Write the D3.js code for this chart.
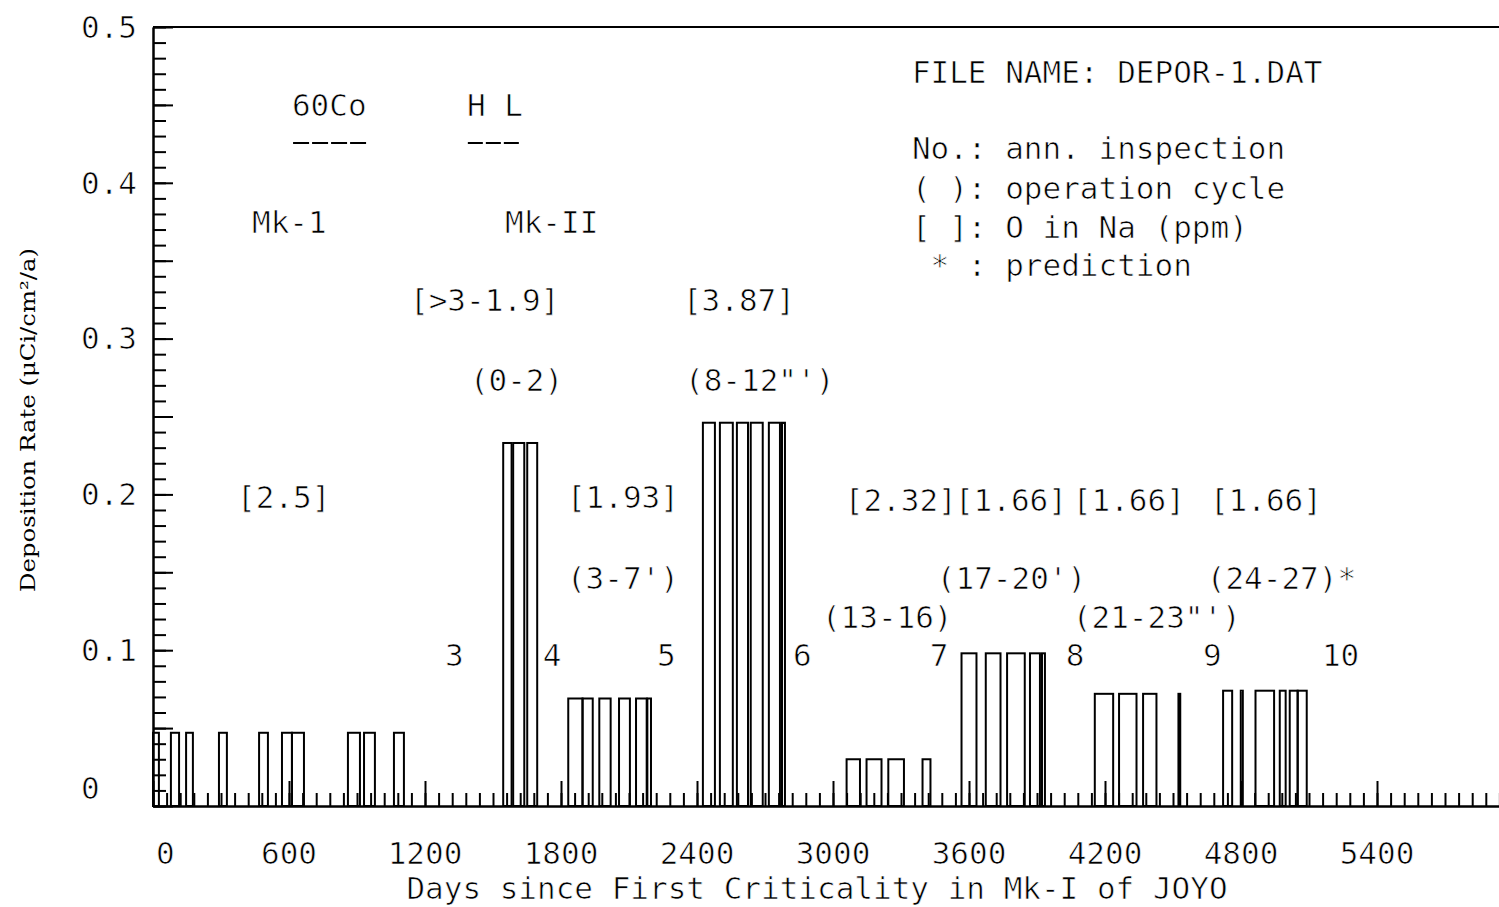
<!DOCTYPE html>
<html lang="en">
<head>
<meta charset="utf-8">
<title>Deposition rate</title>
<script src="https://cdn.jsdelivr.net/npm/d3@7/dist/d3.min.js"></script>
<style>
  body { margin: 0; background: #fff; }
  text { font-family: "DejaVu Sans Mono", monospace; fill: #000; stroke: #fff; stroke-width: 0.7px; }
  .axis path, .axis line { stroke: #000; stroke-width: 2; }
</style>
</head>
<body>
<svg id="chart" width="1499" height="907"></svg>
<script>
// operating periods: start / end in days since first criticality, rate in uCi/cm2/a
var periodStart = [0, 79, 146, 291, 468, 569, 613, 860, 931, 1063,
                   1545, 1589, 1651,
                   1832, 1895, 1969, 2056, 2131, 2181,
                   2426, 2501, 2576, 2637, 2717, 2775,
                   3060, 3148, 3244, 3395,
                   3567, 3674, 3768, 3869, 3922,
                   4155, 4262, 4368, 4524,
                   4721, 4799, 4864, 4971, 5015, 5050];
var periodEnd   = [26, 115, 176, 326, 507, 613, 666, 913, 979, 1107,
                   1582, 1638, 1695,
                   1895, 1940, 2019, 2104, 2178, 2197,
                   2479, 2558, 2625, 2690, 2766, 2788,
                   3119, 3214, 3313, 3430,
                   3633, 3739, 3846, 3913, 3935,
                   4236, 4339, 4427, 4532,
                   4761, 4808, 4946, 4997, 5050, 5090];
var depRate     = [0.047, 0.047, 0.047, 0.047, 0.047, 0.047, 0.047, 0.047, 0.047, 0.047,
                   0.233, 0.233, 0.233,
                   0.069, 0.069, 0.069, 0.069, 0.069, 0.069,
                   0.246, 0.246, 0.246, 0.246, 0.246, 0.246,
                   0.030, 0.030, 0.030, 0.030,
                   0.098, 0.098, 0.098, 0.098, 0.098,
                   0.072, 0.072, 0.072, 0.072,
                   0.074, 0.074, 0.074, 0.074, 0.074, 0.074];

var xTicks = [0, 600, 1200, 1800, 2400, 3000, 3600, 4200, 4800, 5400];
var xTickLabels = ["0", "600", "1200", "1800", "2400", "3000", "3600", "4200", "4800", "5400"];
var yTicks = [0, 0.1, 0.2, 0.3, 0.4, 0.5];
var yTickLabels = ["0", "0.1", "0.2", "0.3", "0.4", "0.5"];

// annotations in the plot (day of left edge, rate of middle line)
var annText = ["60Co", "H L", "Mk-1", "Mk-II", "[>3-1.9]", "[3.87]", "(0-2)", "(8-12\"')",
               "[2.5]", "[1.93]", "[2.32]", "[1.66]", "[1.66]", "[1.66]",
               "(3-7')", "(17-20')", "(24-27)*", "(13-16)", "(21-23\"')",
               "3", "4", "5", "6", "7", "8", "9", "10"];
var annDay  = [613, 1385, 437, 1553, 1134, 2338, 1398, 2347,
               371, 1826, 3052, 3538, 4058, 4663,
               1826, 3458, 4649, 2951, 4058,
               1288, 1720, 2223, 2823, 3427, 4027, 4632, 5157];
var annRate = [0.450, 0.450, 0.375, 0.375, 0.325, 0.325, 0.2734, 0.2734,
               0.198, 0.198, 0.196, 0.196, 0.196, 0.196,
               0.1463, 0.1463, 0.1463, 0.1213, 0.1213,
               0.0969, 0.0969, 0.0969, 0.0969, 0.0969, 0.0969, 0.0969, 0.0969];

var legendText = ["FILE NAME: DEPOR-1.DAT", "No.: ann. inspection", "( ): operation cycle",
                  "[ ]: O in Na (ppm)", " * : prediction"];
var legendRate = [0.471, 0.4223, 0.3967, 0.3716, 0.3472];

var svg = d3.select("#chart");
var W = 1499;

var x = d3.scaleLinear().domain([0, 6000]).range([153, 1513]);
var y = d3.scaleLinear().domain([0, 0.5]).range([806, 27]);

// y ticks (inside)
svg.append("g").attr("class", "axis")
  .attr("transform", "translate(" + x(0) + ",0)")
  .call(d3.axisLeft(y).tickValues(d3.range(0, 0.5001, 0.01)).tickSize(-13).tickSizeOuter(0).tickFormat(""));
svg.append("g").attr("class", "axis")
  .attr("transform", "translate(" + x(0) + ",0)")
  .call(d3.axisLeft(y).tickValues(d3.range(0, 0.5001, 0.05)).tickSize(-20).tickSizeOuter(0).tickFormat(""));

// x ticks (inside)
svg.append("g").attr("class", "axis")
  .attr("transform", "translate(0," + y(0) + ")")
  .call(d3.axisBottom(x).tickValues(d3.range(0, 6000, 60)).tickSize(-13).tickSizeOuter(0).tickFormat(""));
svg.append("g").attr("class", "axis")
  .attr("transform", "translate(0," + y(0) + ")")
  .call(d3.axisBottom(x).tickValues(xTicks).tickSize(-25).tickSizeOuter(0).tickFormat(""));

// top frame line
svg.append("line")
  .attr("x1", x(0)).attr("x2", W)
  .attr("y1", y(0.5)).attr("y2", y(0.5))
  .style("stroke", "#000").style("stroke-width", 2);

// bars
svg.append("g").selectAll("rect")
  .data(depRate)
  .enter().append("rect")
  .attr("x", function(d, i) { return x(periodStart[i]); })
  .attr("width", function(d, i) { return x(periodEnd[i]) - x(periodStart[i]); })
  .attr("y", function(d) { return y(d); })
  .attr("height", function(d) { return y(0) - y(d); })
  .style("fill", "none")
  .style("stroke", "#000")
  .style("stroke-width", 2);

// tick labels
svg.append("g").selectAll("text")
  .data(xTicks)
  .enter().append("text")
  .attr("x", function(d) { return d === 0 ? x(d) + 3 : x(d); })
  .attr("y", 853)
  .attr("dy", "0.35em")
  .attr("text-anchor", function(d) { return d === 0 ? "start" : "middle"; })
  .style("font-size", "31px")
  .text(function(d, i) { return xTickLabels[i]; });

svg.append("g").selectAll("text")
  .data(yTicks)
  .enter().append("text")
  .attr("x", 81)
  .attr("y", function(d) { return d === 0 ? y(d) - 18 : y(d); })
  .attr("dy", "0.35em")
  .style("font-size", "31px")
  .text(function(d, i) { return yTickLabels[i]; });

// axis titles
svg.append("text")
  .attr("x", 817).attr("y", 888).attr("dy", "0.35em")
  .attr("text-anchor", "middle")
  .style("font-size", "31px")
  .text("Days since First Criticality in Mk-I of JOYO");

svg.append("text")
  .attr("transform", "translate(28,420) rotate(-90)")
  .attr("dy", "0.35em")
  .attr("text-anchor", "middle")
  .attr("textLength", 344)
  .attr("lengthAdjust", "spacingAndGlyphs")
  .style("font-family", "'DejaVu Serif Condensed', 'DejaVu Serif', serif")
  .style("font-size", "21px")
  .style("stroke", "none")
  .text("Deposition Rate (\u03bcCi/cm\u00b2/a)");

// annotations
svg.append("g").selectAll("text")
  .data(annText)
  .enter().append("text")
  .attr("x", function(d, i) { return x(annDay[i]); })
  .attr("y", function(d, i) { return y(annRate[i]); })
  .attr("dy", "0.35em")
  .style("font-size", "31px")
  .text(function(d) { return d; });

// dashed underlines under 60Co and H L
svg.append("line")
  .attr("x1", x(618)).attr("x2", x(944))
  .attr("y1", y(0.4255)).attr("y2", y(0.4255))
  .style("stroke", "#000").style("stroke-width", 2).style("stroke-dasharray", "16 3");
svg.append("line")
  .attr("x1", x(1389)).attr("x2", x(1619))
  .attr("y1", y(0.4255)).attr("y2", y(0.4255))
  .style("stroke", "#000").style("stroke-width", 2).style("stroke-dasharray", "15 3");

// legend block
svg.append("g").selectAll("text")
  .data(legendText)
  .enter().append("text")
  .attr("x", x(3348))
  .attr("y", function(d, i) { return y(legendRate[i]); })
  .attr("dy", "0.35em")
  .style("font-size", "31px")
  .attr("xml:space", "preserve")
  .text(function(d) { return d; });
</script>
</body>
</html>
